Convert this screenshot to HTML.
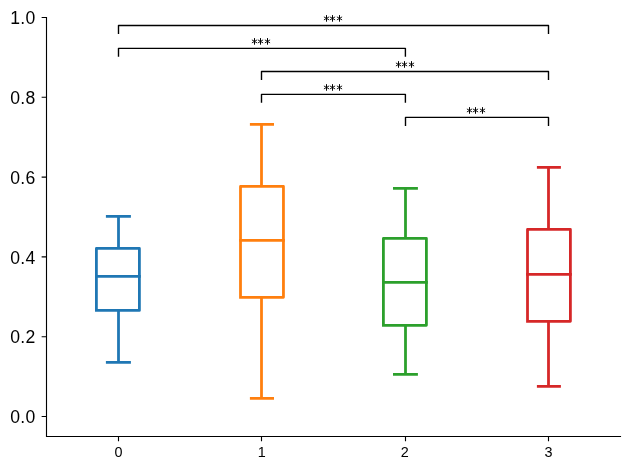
<!DOCTYPE html>
<html><head><meta charset="utf-8"><style>
html,body{margin:0;padding:0;background:#fff;width:630px;height:470px;overflow:hidden}
svg{display:block;will-change:transform}
text{font-family:"Liberation Sans",sans-serif;fill:#000}
.yl text{font-size:17.6px;letter-spacing:0.2px}
.xl text{font-size:14.4px}
</style></head><body>
<svg width="630" height="470" viewBox="0 0 630 470">
<rect width="630" height="470" fill="#fff"/>
<g stroke="#1f77b4" stroke-width="2.78" fill="none"><path d="M118.5 248.4V216.4M118.5 310.4V362.4" stroke-linecap="butt"/><path d="M107.29 216.4H129.51M107.29 362.4H129.51" stroke-linecap="square"/><path d="M96.4 310.4H139.4V248.4H96.4V310.4" stroke-linejoin="round" stroke-linecap="square"/><path d="M96.4 276.4H139.4" stroke-linecap="square"/></g><g stroke="#ff7f0e" stroke-width="2.78" fill="none"><path d="M261.5 186.4V124.4M261.5 297.35V398.4" stroke-linecap="butt"/><path d="M251.29 124.4H272.61M251.29 398.4H272.61" stroke-linecap="square"/><path d="M240.5 297.35H283.45V186.4H240.5V297.35" stroke-linejoin="round" stroke-linecap="square"/><path d="M240.5 240.4H283.45" stroke-linecap="square"/></g><g stroke="#2ca02c" stroke-width="2.78" fill="none"><path d="M405.5 238.4V188.4M405.5 325.3V374.4" stroke-linecap="butt"/><path d="M394.39 188.4H416.51M394.39 374.4H416.51" stroke-linecap="square"/><path d="M383.4 325.3H426.4V238.4H383.4V325.3" stroke-linejoin="round" stroke-linecap="square"/><path d="M383.4 282.4H426.4" stroke-linecap="square"/></g><g stroke="#d62728" stroke-width="2.78" fill="none"><path d="M548.5 229.4V167.4M548.5 321.3V386.4" stroke-linecap="butt"/><path d="M538.29 167.4H559.51M538.29 386.4H559.51" stroke-linecap="square"/><path d="M527.5 321.3H570.4V229.4H527.5V321.3" stroke-linejoin="round" stroke-linecap="square"/><path d="M527.5 274.4H570.4" stroke-linecap="square"/></g>
<path d="M46.5 17.5V436.5H620.5" stroke="#000" stroke-width="1.11" fill="none" stroke-linecap="square"/><path d="M41.64 416.50H46.5M41.64 336.70H46.5M41.64 256.90H46.5M41.64 177.10H46.5M41.64 97.30H46.5M41.64 17.50H46.5M118.50 436.5V441.36M261.50 436.5V441.36M405.50 436.5V441.36M548.50 436.5V441.36" stroke="#000" stroke-width="1.11" fill="none"/>
<g class="yl"><text x="35.4" y="423.10" text-anchor="end">0.0</text><text x="35.4" y="343.30" text-anchor="end">0.2</text><text x="35.4" y="263.50" text-anchor="end">0.4</text><text x="35.4" y="183.70" text-anchor="end">0.6</text><text x="35.4" y="103.90" text-anchor="end">0.8</text><text x="35.4" y="24.10" text-anchor="end">1.0</text></g>
<g class="xl"><text x="118.50" y="457.2" text-anchor="middle">0</text><text x="261.70" y="457.2" text-anchor="middle">1</text><text x="404.80" y="457.2" text-anchor="middle">2</text><text x="548.50" y="457.2" text-anchor="middle">3</text></g>
<path d="M118.50 33.30V25.5H548.50V33.30M118.50 56.15V48.35H405.40V56.15M261.50 79.30V71.5H548.50V79.30M261.50 102.15V94.35H405.40V102.15M405.50 125.20V117.4H548.50V125.20" stroke="#000" stroke-width="1.39" fill="none" stroke-linecap="square" stroke-linejoin="round"/><path d="M326.5 15.10V21.70M332.5 15.10V21.70M339.5 15.10V21.70M254.5 38.10V44.70M260.5 38.10V44.70M267.5 38.10V44.70M398.5 61.15V67.75M404.5 61.15V67.75M411.5 61.15V67.75M326.5 84.15V90.75M332.5 84.15V90.75M339.5 84.15V90.75M469.5 107.15V113.75M475.5 107.15V113.75M482.5 107.15V113.75" stroke="#000" stroke-width="1.0" fill="none"/><path d="M323.90 19.90L329.10 16.90M329.10 19.90L323.90 16.90M329.90 19.90L335.10 16.90M335.10 19.90L329.90 16.90M336.90 19.90L342.10 16.90M342.10 19.90L336.90 16.90M251.90 42.90L257.10 39.90M257.10 42.90L251.90 39.90M257.90 42.90L263.10 39.90M263.10 42.90L257.90 39.90M264.90 42.90L270.10 39.90M270.10 42.90L264.90 39.90M395.90 65.95L401.10 62.95M401.10 65.95L395.90 62.95M401.90 65.95L407.10 62.95M407.10 65.95L401.90 62.95M408.90 65.95L414.10 62.95M414.10 65.95L408.90 62.95M323.90 88.95L329.10 85.95M329.10 88.95L323.90 85.95M329.90 88.95L335.10 85.95M335.10 88.95L329.90 85.95M336.90 88.95L342.10 85.95M342.10 88.95L336.90 85.95M466.90 111.95L472.10 108.95M472.10 111.95L466.90 108.95M472.90 111.95L478.10 108.95M478.10 111.95L472.90 108.95M479.90 111.95L485.10 108.95M485.10 111.95L479.90 108.95" stroke="#000" stroke-width="0.9" fill="none"/>
</svg>
</body></html>
